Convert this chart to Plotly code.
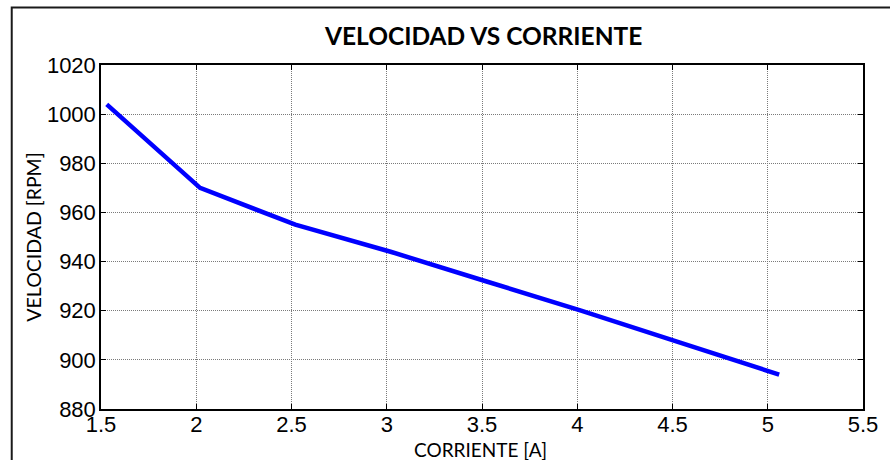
import plotly.graph_objects as go

# Motor speed measured against armature current
corriente = [1.53, 2.02, 2.52, 3.02, 3.52, 4.02, 4.54, 5.06]
velocidad = [1004, 970, 955, 944, 932, 920, 907, 894]

x_ticks = [1.5, 2, 2.5, 3, 3.5, 4, 4.5, 5, 5.5]
x_tick_text = ["1.5", "2", "2.5", "3", "3.5", "4", "4.5", "5", "5.5"]
y_ticks = [880, 900, 920, 940, 960, 980, 1000, 1020]

titulo = "VELOCIDAD VS CORRIENTE"
etiqueta_x = "CORRIENTE [A]"
etiqueta_y = "VELOCIDAD [RPM]"

W, H = 890, 460
ML, MR, MT, MB = 101, 25, 65, 51
PW, PH = W - ML - MR, H - MT - MB

def px_x(p):
    return (p - ML) / PW

def px_y(p):
    return (H - MB - p) / PH

fig = go.Figure()
fig.add_trace(go.Scatter(
    x=corriente, y=velocidad, mode="lines",
    line=dict(color="#0000FF", width=4.5),
    showlegend=False, hoverinfo="skip",
))

axis_common = dict(
    showline=True, linecolor="#000000", linewidth=1.5, mirror="ticks",
    ticks="inside", ticklen=5, tickwidth=1, tickcolor="#000000",
    showgrid=True, gridcolor="#7a7a7a", gridwidth=1, griddash="1px,1px",
    zeroline=False,
    tickfont=dict(family="Liberation Sans, Arial, sans-serif", size=22, color="#000000"),
)

fig.update_xaxes(range=[1.5, 5.5], tickvals=x_ticks, ticktext=x_tick_text,
                 ticklabelstandoff=-5, **axis_common)
fig.update_yaxes(range=[880, 1020], tickvals=y_ticks, ticklabelstandoff=-1, **axis_common)

fig.update_layout(
    width=W, height=H,
    margin=dict(l=ML, r=MR, t=MT, b=MB),
    paper_bgcolor="#ffffff", plot_bgcolor="#ffffff",
    shapes=[dict(
        type="rect", xref="paper", yref="paper",
        x0=px_x(11.5), x1=px_x(900), y0=px_y(470), y1=px_y(7.5),
        line=dict(color="#1a1a1a", width=2), layer="below",
    )],
    annotations=[
        dict(text=f"<b>{titulo}</b>", xref="paper", yref="paper",
             x=px_x(484), y=px_y(35), showarrow=False,
             xanchor="center", yanchor="middle",
             font=dict(family="Lato, sans-serif", size=24.5, color="#000000")),
        dict(text=etiqueta_x, xref="paper", yref="paper",
             x=px_x(481), y=px_y(449), showarrow=False,
             xanchor="center", yanchor="middle",
             font=dict(family="Lato, sans-serif", size=19, color="#000000")),
        dict(text=etiqueta_y, xref="paper", yref="paper",
             x=px_x(33), y=px_y(237.5), showarrow=False, textangle=-90,
             xanchor="center", yanchor="middle",
             font=dict(family="Lato, sans-serif", size=19.5, color="#000000")),
    ],
)

fig.write_html("out.html")
